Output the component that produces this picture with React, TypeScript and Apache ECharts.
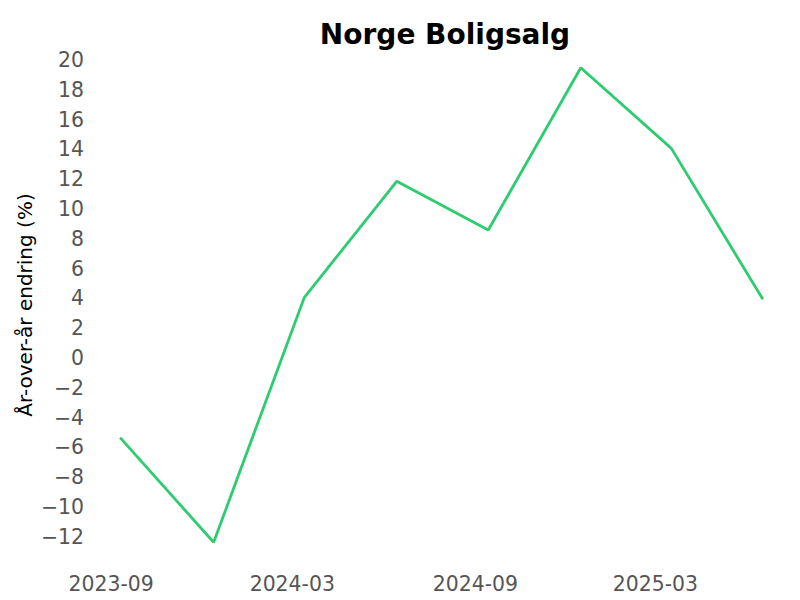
import React, { useEffect, useRef } from "react";
import * as echarts from "echarts";

const dates = [
  "2023-09-10",
  "2023-12-13",
  "2024-03-13",
  "2024-06-14",
  "2024-09-14",
  "2024-12-16",
  "2025-03-17",
  "2025-06-17",
];
const values = [-5.34, -12.36, 4.05, 11.86, 8.59, 19.48, 14.07, 3.94];
const xTickLabels = ["2023-09", "2024-03", "2024-09", "2025-03"];
const yTicks = [-12, -10, -8, -6, -4, -2, 0, 2, 4, 6, 8, 10, 12, 14, 16, 18, 20];

const toTs = (s: string) => {
  const [y, m, d] = s.split("-").map(Number);
  return Date.UTC(y, m - 1, d || 1);
};
const fmtMonth = (v: number) => {
  const dt = new Date(v);
  const y = dt.getUTCFullYear();
  const m = dt.getUTCMonth() + 1;
  return `${y}-${m < 10 ? "0" + m : m}`;
};
const fmtNum = (v: number) => (v < 0 ? "\u2212" + Math.abs(v) : String(v));

export default function App() {
  const ref = useRef<HTMLDivElement>(null);
  useEffect(() => {
    if (!ref.current) return;
    const chart = echarts.init(ref.current, undefined, { renderer: "svg" });
    const xs = dates.map(toTs);
    const xMinData = Math.min(...xs);
    const xMaxData = Math.max(...xs);
    const xPad = (xMaxData - xMinData) * 0.05;
    const yMinData = Math.min(...values);
    const yMaxData = Math.max(...values);
    const yPad = (yMaxData - yMinData) * 0.05;
    const font = "DejaVu Sans";
    chart.setOption({
      animation: false,
      backgroundColor: "#ffffff",
      title: {
        text: "Norge Boligsalg",
        left: 440,
        textAlign: "center",
        top: 15,
        textStyle: {
          fontFamily: font,
          fontSize: 28,
          fontWeight: "bold",
          color: "#000000",
        },
      },
      grid: { left: 88, right: 5, top: 44, bottom: 34, containLabel: false },
      xAxis: {
        type: "value",
        min: xMinData - xPad,
        max: xMaxData + xPad,
        axisLine: { show: false },
        axisTick: { show: false },
        splitLine: { show: false },
        axisLabel: {
          customValues: xTickLabels.map(toTs),
          formatter: (v: number) => fmtMonth(v),
          fontFamily: font,
          fontSize: 20.4,
          color: "#555555",
          margin: 8,
        },
      },
      yAxis: {
        type: "value",
        min: yMinData - yPad,
        max: yMaxData + yPad,
        name: "År-over-år endring (%)",
        nameLocation: "middle",
        nameGap: 53,
        nameMoveOverlap: false,
        nameRotate: 90,
        nameTextStyle: {
          fontFamily: font,
          fontSize: 20,
          color: "#000000",
        },
        axisLine: { show: false },
        axisTick: { show: false },
        splitLine: { show: false },
        axisLabel: {
          customValues: yTicks,
          formatter: (v: number) => fmtNum(v),
          fontFamily: font,
          fontSize: 20.4,
          color: "#555555",
          margin: 4,
        },
      },
      series: [
        {
          type: "line",
          data: xs.map((x, i) => [x, values[i]]),
          symbol: "none",
          lineStyle: { color: "#2ecc71", width: 2.8 },
        },
      ],
    });
    return () => chart.dispose();
  }, []);
  return (
    <div
      ref={ref}
      style={{ position: "fixed", left: 0, top: 0, width: 800, height: 600 }}
    />
  );
}
